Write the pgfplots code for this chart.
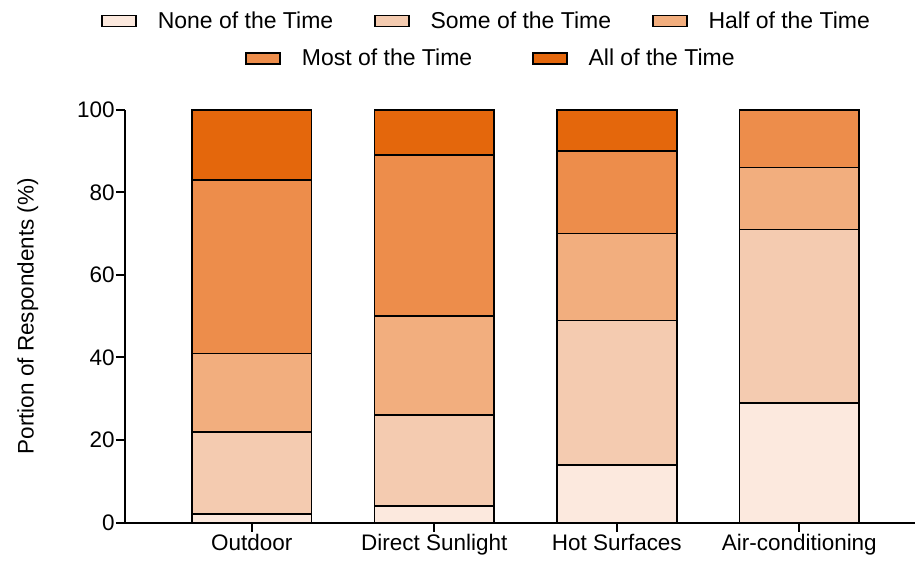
\documentclass[border=0pt]{standalone}
\usepackage{fontspec}
\setmainfont{Liberation Sans}
\usepackage{pgfplots}
\pgfplotsset{compat=1.18}

\definecolor{cNone}{HTML}{FCE9DE}
\definecolor{cSome}{HTML}{F4CBB0}
\definecolor{cHalf}{HTML}{F2AE7E}
\definecolor{cMost}{HTML}{ED8D4B}
\definecolor{cAll}{HTML}{E4670C}

\pgfplotsset{
  common/.style={
    scale only axis, width=791pt, height=413pt,
    font=\fontsize{22.5}{27}\selectfont,
  },
  boxlegend/.style={
    legend image code/.code={\draw[##1, line width=1.5pt] (0pt,-5.5pt) rectangle (34pt,5.5pt);},
  },
  leg/.style={
    draw=none, fill=none, anchor=center,
    font=\fontsize{23}{27}\selectfont,
    /tikz/every odd column/.append style={column sep=19pt},
    /tikz/every even column/.append style={column sep=#1},
  },
}

\begin{document}
\begin{tikzpicture}
\useasboundingbox (-125pt,-39pt) rectangle (791.8pt,523pt);
\begin{axis}[
  common,
  ybar stacked, bar width=120pt,
  boxlegend,
  clip=false,
  xmin=-0.695, xmax=3.635,
  ymin=0, ymax=100,
  xtick=data,
  xticklabels={Outdoor,Direct Sunlight,Hot Surfaces,Air-conditioning},
  ytick={0,20,...,100},
  minor tick num=0,
  axis x line*=bottom,
  axis y line*=left,
  axis line style={line width=2pt, black},
  tick align=outside,
  major tick length=9pt,
  tick style={black, solid, line width=2pt},
  /pgf/number format/assume math mode=true,
  yticklabel style={inner sep=1pt},
  xticklabel style={inner sep=2pt},
  ylabel={Portion of Respondents (\%)},
  ylabel style={at={(axis description cs:-0.105,0.5)}},
  legend columns=3,
  legend style={leg=39pt, at={(axis description cs:0.4577,1.215)}},
]
\addplot[fill=cNone, draw=black, line width=1.6pt] coordinates {(0,2) (1,4) (2,14) (3,29)};
\addlegendentry{None of the Time}
\addplot[fill=cSome, draw=black, line width=1.6pt] coordinates {(0,20) (1,22) (2,35) (3,42)};
\addlegendentry{Some of the Time}
\addplot[fill=cHalf, draw=black, line width=1.6pt] coordinates {(0,19) (1,24) (2,21) (3,15)};
\addlegendentry{Half of the Time}
\addplot[fill=cMost, draw=black, line width=1.6pt, forget plot] coordinates {(0,42) (1,39) (2,20) (3,14)};
\addplot[fill=cAll, draw=black, line width=1.6pt, forget plot] coordinates {(0,17) (1,11) (2,10) (3,0)};
% tick marks
\pgfplotsinvokeforeach{0,1,2,3}{
  \draw[black, line width=2pt] (axis cs:#1,0) -- ++(0pt,-9pt);
}
\pgfplotsinvokeforeach{0,20,40,60,80,100}{
  \draw[black, line width=2pt] (axis cs:-0.695,#1) -- ++(-9pt,0pt);
}
\end{axis}
\begin{axis}[
  common,
  hide axis,
  boxlegend,
  xmin=0, xmax=1, ymin=0, ymax=1,
  legend columns=2,
  legend style={leg=58pt, at={(axis description cs:0.4633,1.125)}},
]
\addlegendimage{fill=cMost, draw=black}
\addlegendentry{Most of the Time}
\addlegendimage{fill=cAll, draw=black}
\addlegendentry{All of the Time}
\end{axis}
\end{tikzpicture}
\end{document}
